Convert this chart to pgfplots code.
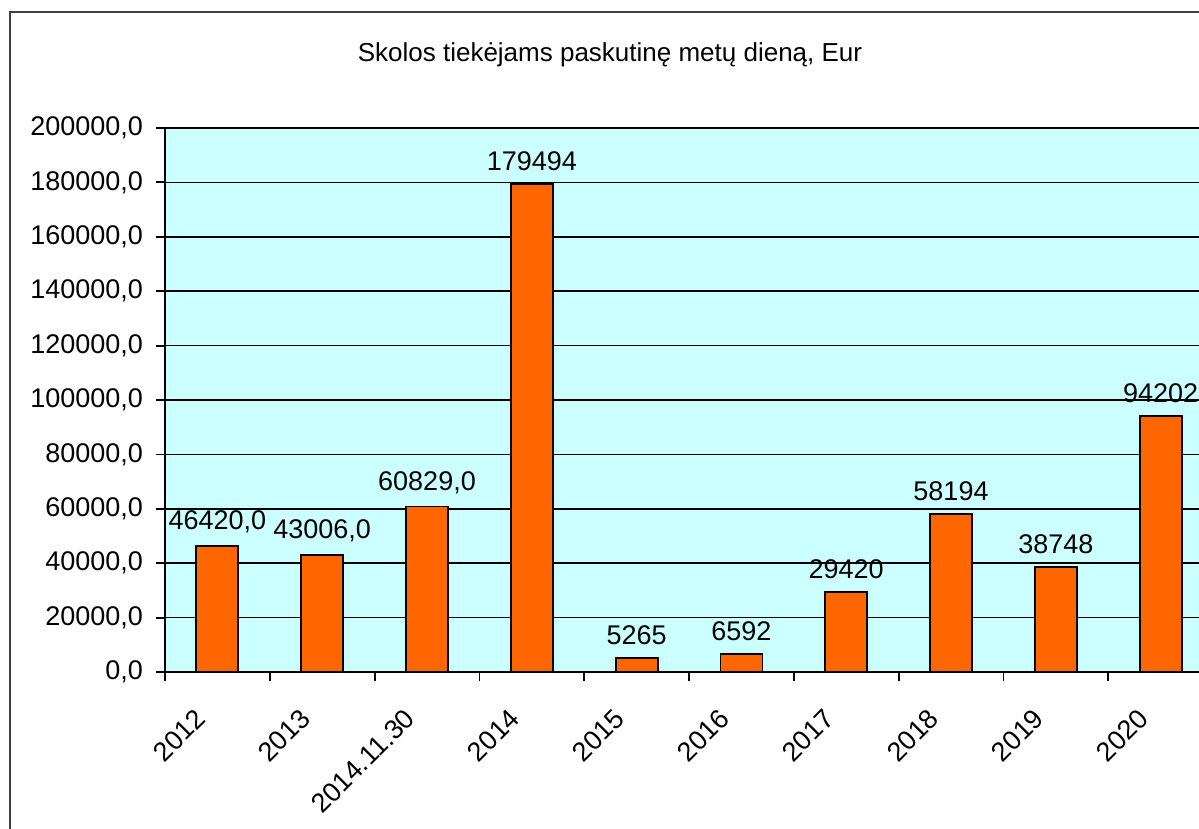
\documentclass[border=0pt]{standalone}
\usepackage{fontspec}
\setmainfont{Liberation Sans}
\usepackage{pgfplots}
\pgfplotsset{compat=1.18}
\usepackage{pgfplotstable}
\definecolor{barorange}{RGB}{255,102,0}
\definecolor{plotbg}{RGB}{204,255,255}

\pgfplotstableread{
x y label
0 46420 46420,0
1 43006 43006,0
2 60829 60829,0
3 179494 179494
4 5265 5265
5 6592 6592
6 29420 29420
7 58194 58194
8 38748 38748
9 94202 94202
}\skolos

\begin{document}
\begin{tikzpicture}
\useasboundingbox (-82.5pt,-78.5pt) rectangle (517pt,336pt);
\clip (-82.5pt,-78.5pt) rectangle (517pt,336pt);
\fill[white] (-82.5pt,-78.5pt) rectangle (517pt,336pt);
\draw[black!75, line width=0.9pt] (-77.5pt,-200pt) rectangle (700pt,330pt);
\node[font=\fontsize{13}{15}\selectfont] at (222.5pt,308.5pt) {Skolos tiekėjams paskutinę metų dieną, Eur};
\begin{axis}[
  at={(0,0)}, anchor=south west,
  scale only axis, width=524pt, height=272pt,
  ybar, bar width=21pt,
  xmin=-0.5, xmax=9.5, ymin=0, ymax=200000,
  axis background/.style={fill=plotbg},
  axis x line*=bottom, axis y line*=left,
  axis line style={line width=0.9pt, -},
  ytick={0,20000,...,200000},
  ymajorgrids, grid style={black, line width=0.85pt},
  xtick={0,...,9},
  xticklabels={2012,2013,2014.11.30,2014,2015,2016,2017,2018,2019,2020},
  major x tick style={draw=none},
  minor xtick={-0.5,0.5,...,8.5},
  tick align=outside,
  major tick length=4.5pt, minor tick length=4.5pt,
  tick style={black, line width=0.9pt},
  xticklabel style={xshift=-6pt, yshift=-14pt, rotate=45, anchor=east, font=\fontsize{13.5}{15}\selectfont},
  yticklabel style={font=\fontsize{13.5}{15}\selectfont, xshift=-3pt},
  /pgf/number format/assume math mode=true,
  yticklabel={\pgfmathprintnumber[fixed, fixed zerofill, precision=1, use comma, 1000 sep={}]{\tick}},
  scaled y ticks=false,
  nodes near coords,
  point meta=explicit symbolic,
  every node near coord/.append style={font=\fontsize{13.5}{15}\selectfont, black, inner sep=0pt, yshift=6pt},
  clip=false,
]
  \addplot[fill=barorange, draw=black, line width=0.9pt] table[x=x, y=y, meta=label] {\skolos};
\end{axis}
\end{tikzpicture}
\end{document}
